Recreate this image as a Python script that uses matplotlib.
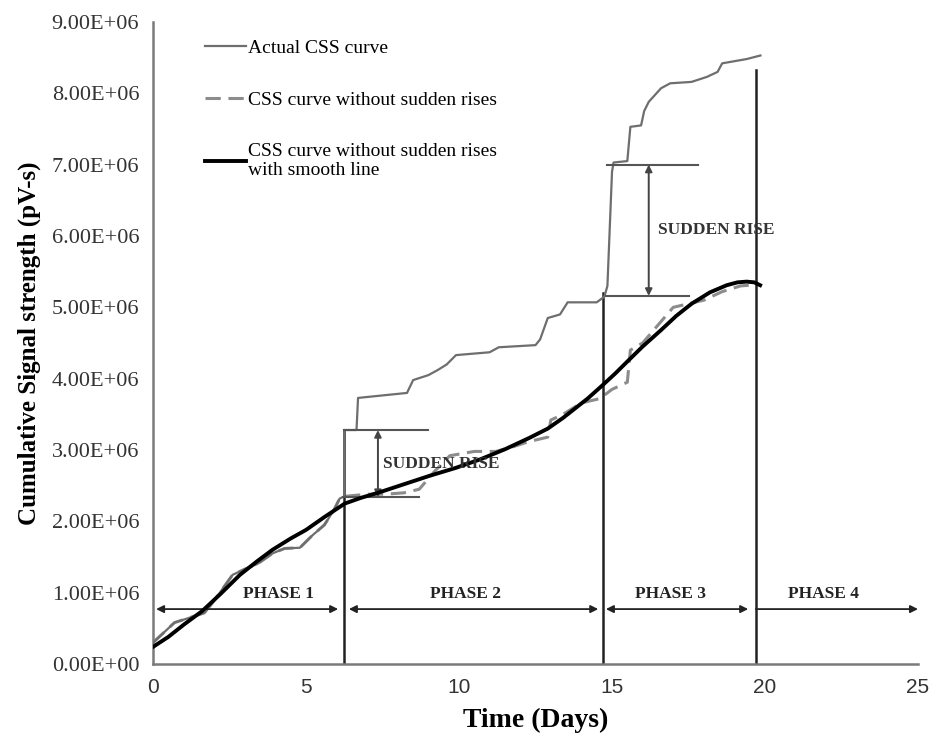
import numpy as np
import matplotlib
matplotlib.use('Agg')
import matplotlib.pyplot as plt
from matplotlib.ticker import FuncFormatter

# values in millions of pV-s
actual_days = [0, 0.3, 0.7, 1.2, 1.7, 2.1, 2.6, 3.0, 3.4, 3.9, 4.3, 4.8, 5.2, 5.6, 5.9, 6.1, 6.25,
               6.25, 6.65, 6.7, 8.3, 8.5, 9.0, 9.3, 9.6, 9.9, 11.0, 11.3, 12.5, 12.65, 12.9, 13.3,
               13.55, 14.5, 14.75, 14.85, 15.0, 15.05, 15.5, 15.6, 15.95, 16.05, 16.2, 16.6, 16.9,
               17.6, 18.1, 18.45, 18.6, 19.4, 19.85]
actual_css = [0.30, 0.42, 0.58, 0.65, 0.72, 0.95, 1.25, 1.33, 1.40, 1.55, 1.62, 1.63, 1.80, 1.95, 2.15, 2.32, 2.35,
              3.28, 3.28, 3.73, 3.80, 3.98, 4.05, 4.12, 4.20, 4.33, 4.37, 4.44, 4.47, 4.55, 4.85, 4.90,
              5.07, 5.07, 5.15, 5.30, 6.90, 7.03, 7.05, 7.53, 7.55, 7.75, 7.88, 8.07, 8.14,
              8.16, 8.23, 8.30, 8.42, 8.48, 8.53]

norise_days = [0, 0.3, 0.7, 1.2, 1.7, 2.1, 2.6, 3.0, 3.4, 3.9, 4.3, 4.8, 5.2, 5.6, 5.9, 6.1, 6.25,
               7.0, 7.6, 8.2, 8.7, 9.2, 9.7, 10.5, 11.2, 11.8, 12.3, 12.9, 13.0, 13.4, 14.0, 14.6,
               15.0, 15.5, 15.6, 16.0, 16.5, 17.0, 17.5, 18.0, 18.6, 19.2, 19.8]
norise_css = [0.30, 0.42, 0.58, 0.65, 0.72, 0.95, 1.25, 1.33, 1.40, 1.55, 1.62, 1.63, 1.80, 1.95, 2.15, 2.32, 2.35,
              2.38, 2.38, 2.40, 2.45, 2.70, 2.92, 2.98, 2.98, 3.05, 3.12, 3.18, 3.42, 3.50, 3.66, 3.72,
              3.85, 3.95, 4.40, 4.50, 4.75, 5.00, 5.05, 5.10, 5.22, 5.30, 5.32]

smooth_days = [0, 0.5, 1.0, 1.6, 2.2, 2.84, 3.4, 3.9, 4.5, 5.0, 5.6, 6.27, 6.8, 7.35, 8.2, 9.05,
               9.9, 10.7, 11.5, 12.3, 12.9, 13.4, 14.2, 14.67, 15.1, 15.5, 16.0, 16.6, 17.1, 17.6,
               18.2, 18.75, 19.1, 19.4, 19.65, 19.84]
smooth_css = [0.24, 0.38, 0.55, 0.74, 0.98, 1.25, 1.44, 1.60, 1.76, 1.88, 2.06, 2.25, 2.33, 2.40,
              2.52, 2.64, 2.75, 2.87, 3.01, 3.17, 3.30, 3.45, 3.72, 3.90, 4.07, 4.24, 4.45, 4.68,
              4.88, 5.05, 5.21, 5.31, 5.35, 5.36, 5.35, 5.31]

phase_bounds = [6.25, 14.7, 19.7]
phase_tops = [3.28, 5.2, 8.33]
phase_names = ['PHASE 1', 'PHASE 2', 'PHASE 3', 'PHASE 4']
phase_label_x = [4.1, 10.2, 16.9, 21.9]

rise1 = (6.25, 9.0, 2.34, 3.28)   # x0, x1, low, high
rise2 = (14.85, 17.8, 5.16, 7.0)

M = 1e6
serif = 'Liberation Serif'

fig = plt.figure(figsize=(9.4, 7.42), dpi=100)
ax = fig.add_axes([0.1628, 0.1051, 0.8138, 0.8653])

ax.plot(actual_days, np.array(actual_css) * M, color='#6e6e6e', lw=1.6, label='Actual CSS curve', zorder=3)
ax.plot(norise_days, np.array(norise_css) * M, color='#8c8c8c', lw=2.2, ls=(0, (5, 2.5)),
        label='CSS curve without sudden rises', zorder=2)
ax.plot(smooth_days, np.array(smooth_css) * M, color='black', lw=2.8, solid_joinstyle='round',
        label='CSS curve without sudden rises\nwith smooth line', zorder=4)

# phase boundaries
for b, t in zip(phase_bounds, phase_tops):
    ax.plot([b, b], [0, t * M], color='#222222', lw=1.8, zorder=2)

# phase arrows
arr_y = 0.77 * M
ap = dict(arrowstyle='<|-|>', color='#222222', lw=1.3, mutation_scale=11, shrinkA=0, shrinkB=0)
ax.annotate('', xy=(0.1, arr_y), xytext=(6.05, arr_y), arrowprops=ap)
ax.annotate('', xy=(6.4, arr_y), xytext=(14.55, arr_y), arrowprops=ap)
ax.annotate('', xy=(14.8, arr_y), xytext=(19.45, arr_y), arrowprops=ap)
ax.annotate('', xy=(25, arr_y), xytext=(19.7, arr_y),
            arrowprops=dict(arrowstyle='-|>', color='#222222', lw=1.3, mutation_scale=11, shrinkA=0, shrinkB=0))
for name, x in zip(phase_names, phase_label_x):
    ax.text(x, 0.98 * M, name, ha='center', va='center', fontsize=12.5, fontweight='bold',
            family=serif, color='#222222')

# sudden rise markers
for (x0, x1, lo, hi), ax_x, tx in [(rise1, 7.35, 7.5), (rise2, 16.2, 16.5)]:
    ax.plot([x0, x1], [hi * M, hi * M], color='#555555', lw=1.5, zorder=3)
    ax.plot([x0 - 0.05, x1 - 0.3], [lo * M, lo * M], color='#555555', lw=1.5, zorder=3)
    ax.annotate('', xy=(ax_x, lo * M), xytext=(ax_x, hi * M),
                arrowprops=dict(arrowstyle='<|-|>', color='#444444', lw=1.4, mutation_scale=10,
                                shrinkA=0, shrinkB=0))
    ax.text(tx, (lo + hi) / 2 * M, 'SUDDEN RISE', ha='left', va='center', fontsize=12.5,
            fontweight='bold', family=serif, color='#333333', zorder=5)

ax.set_xlim(0, 25)
ax.set_ylim(0, 9 * M)
ax.set_xticks([0, 5, 10, 15, 20, 25])
ax.set_yticks(np.arange(0, 10) * M)
ax.yaxis.set_major_formatter(FuncFormatter(lambda v, p: f'{v:.2E}'))
ax.tick_params(length=0, pad=10)
for lab in ax.get_yticklabels():
    lab.set_fontfamily(serif)
    lab.set_fontsize(16)
    lab.set_color('#333333')
for lab in ax.get_xticklabels():
    lab.set_fontfamily('Liberation Sans')
    lab.set_fontsize(15)
    lab.set_color('#333333')

for s in ['top', 'right']:
    ax.spines[s].set_visible(False)
for s in ['left', 'bottom']:
    ax.spines[s].set_color('#7a7a7a')
    ax.spines[s].set_linewidth(1.8)

ax.set_xlabel('Time (Days)', fontsize=20, fontweight='bold', family=serif, labelpad=8)
ax.set_ylabel('Cumulative Signal strength (pV-s)', fontsize=18, fontweight='bold', family=serif, labelpad=8)

ax.legend(loc='upper left', bbox_to_anchor=(0.045, 1.0), frameon=False,
          prop={'family': serif, 'size': 14}, handlelength=2.1, handletextpad=0.1, labelspacing=1.75)

fig.savefig('out.png', dpi=100)
